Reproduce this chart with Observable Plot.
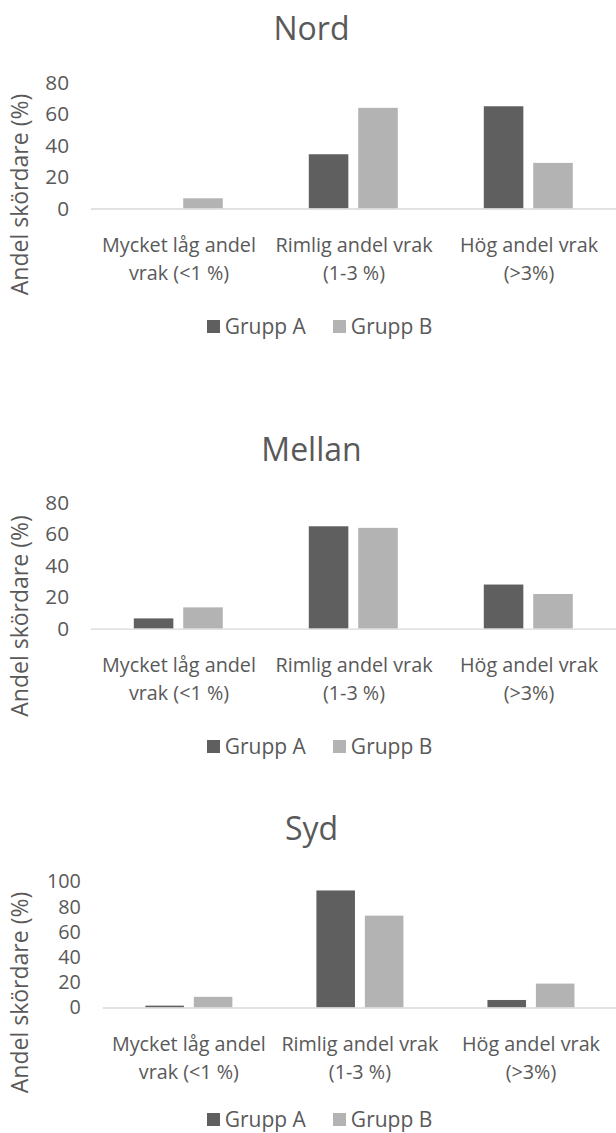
<!DOCTYPE html>
<html><head><meta charset="utf-8">
<script src="https://cdn.jsdelivr.net/npm/d3@7"></script>
<script src="https://cdn.jsdelivr.net/npm/@observablehq/plot@0.6"></script>
<style>
html,body{margin:0;padding:0;background:#fff;overflow:hidden}
#root{position:relative;width:616px;height:1133px;overflow:hidden;font-family:"Open Sans",sans-serif;color:#595959}
.abs{position:absolute}
.title{font-size:32px;line-height:1;width:400px;text-align:center;white-space:nowrap}
.legend{display:flex;align-items:center;font-size:21px;line-height:21px;height:21px;white-space:nowrap}
.sw{width:13px;height:13px;display:inline-block;margin-right:5px}
</style></head><body><div id="root"></div><script>
// ---- data ----
const categories = ["Mycket låg andel vrak (<1 %)", "Rimlig andel vrak (1-3 %)", "Hög andel vrak (>3%)"];
const categoryLabels = ["Mycket låg andel\nvrak (<1 %)", "Rimlig andel vrak\n(1-3 %)", "Hög andel vrak\n(>3%)"];
const groups = ["Grupp A", "Grupp B"];
const groupColors = ["#5f5f5f", "#b3b3b3"];
const regions = ["Nord", "Mellan", "Syd"];
const nordA = [0, 34.5, 65];
const nordB = [6.5, 64, 29];
const mellanA = [6.5, 65, 28];
const mellanB = [13.5, 64, 22];
const sydA = [1.5, 93, 6];
const sydB = [8.5, 73, 19];
const ticksNord = [0, 20, 40, 60, 80];
const ticksMellan = [0, 20, 40, 60, 80];
const ticksSyd = [0, 20, 40, 60, 80, 100];
const yLabel = "Andel skördare (%)";

const series = {Nord: [nordA, nordB], Mellan: [mellanA, mellanB], Syd: [sydA, sydB]};
const ticks = {Nord: ticksNord, Mellan: ticksMellan, Syd: ticksSyd};

// ---- layout (pixel positions) ----
const layout = {
  Nord:   {axisY: 210,   topY: 82.7,  ml: 91.7, titleBase: 40.7, ylabC: 194.5, legendC: 326, tickFont: 21},
  Mellan: {axisY: 630.7, topY: 503.3, ml: 91.7, titleBase: 461.7, ylabC: 616, legendC: 746.5, tickFont: 21},
  Syd:    {axisY: 1009,  topY: 881.7, ml: 104,  titleBase: 840,  ylabC: 992.5, legendC: 1119, tickFont: 20}
};

const root = document.getElementById("root");
const TEXT = "#595959";

const overlay = d3.create("svg")
  .attr("width", 616).attr("height", 1133)
  .style("position", "absolute").style("left", "0px").style("top", "0px")
  .style("pointer-events", "none");

for (const r of regions) {
  const L = layout[r];
  const [a, b] = series[r];
  const rows = [];
  categories.forEach((c, i) => {
    rows.push({category: c, group: groups[0], value: a[i]});
    rows.push({category: c, group: groups[1], value: b[i]});
  });
  const tk = ticks[r];
  const ymax = tk[tk.length - 1];
  const mt = 30, mb = 90;
  const plot = Plot.plot({
    width: 623,
    height: (L.axisY - L.topY) + mt + mb,
    marginLeft: L.ml, marginRight: 0, marginTop: mt, marginBottom: mb,
    style: {fontFamily: "'Open Sans', sans-serif", fontSize: "20px", color: TEXT, background: "transparent", overflow: "visible"},
    fx: {domain: categories, padding: 0, axis: null},
    x: {domain: groups, paddingInner: 0.21, paddingOuter: 0.86, axis: null},
    y: {domain: [0, ymax], axis: null},
    color: {domain: groups, range: groupColors},
    marks: [
      Plot.barY(rows, {fx: "category", x: "group", y: "value", fill: "group"}),
      Plot.ruleY([0], {stroke: "#d9d9d9", strokeWidth: 1.5}),
      Plot.axisY({ticks: tk, tickSize: 0, tickPadding: 22.7, label: null, fontSize: L.tickFont}),
      Plot.axisFx({anchor: "bottom", tickSize: 0, tickPadding: 23, label: null, fontSize: 20, lineHeight: 1.42,
        tickFormat: d => categoryLabels[categories.indexOf(d)]})
    ]
  });
  plot.style.position = "absolute";
  plot.style.left = "0px";
  plot.style.top = (L.topY - mt) + "px";
  root.appendChild(plot);

  const t = document.createElement("div");
  t.className = "abs title";
  t.textContent = r;
  t.style.left = (311.5 - 200) + "px";
  t.style.top = (L.titleBase - 0.888 * 32) + "px";
  root.appendChild(t);

  overlay.append("text")
    .attr("transform", `translate(28,${L.ylabC}) rotate(-90)`)
    .attr("text-anchor", "middle")
    .attr("font-family", "'Open Sans', sans-serif")
    .attr("font-size", 23)
    .attr("fill", TEXT)
    .text(yLabel);

  const lg = document.createElement("div");
  lg.className = "abs legend";
  lg.style.left = "206.7px";
  lg.style.top = (L.legendC - 10.5) + "px";
  groups.forEach((g, i) => {
    const item = document.createElement("span");
    item.style.display = "inline-flex";
    item.style.alignItems = "center";
    if (i === 0) item.style.marginRight = "27px";
    const sw = document.createElement("span");
    sw.className = "sw";
    sw.style.background = groupColors[i];
    item.appendChild(sw);
    item.appendChild(document.createTextNode(g));
    lg.appendChild(item);
  });
  root.appendChild(lg);
}
root.appendChild(overlay.node());
</script></body></html>
